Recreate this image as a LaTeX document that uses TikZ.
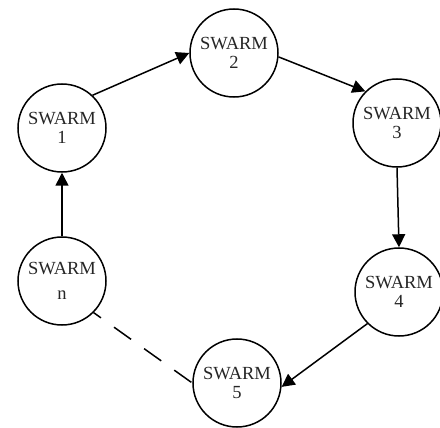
\documentclass[tikz,border=0pt]{standalone}
\usepackage{fontspec}
\setmainfont{Liberation Serif}
\usetikzlibrary{arrows.meta}
\begin{document}
\begin{tikzpicture}[x=1pt,y=-1pt,
  swarm/.style={draw, circle, minimum size=88pt, inner sep=0pt, line width=1.5pt,
    align=center, font=\fontsize{18.5}{19.5}\selectfont, text=black!85},
  arr/.style={line width=1.5pt, -{Triangle[length=13pt,width=13pt]}},
  dashline/.style={line width=1.5pt, dash pattern=on 21pt off 16pt, dash phase=12pt}]
\useasboundingbox (0,0) rectangle (440,428);
\node[swarm] (s1) at (62,128) {SWARM\\1};
\node[swarm] (s2) at (234,53) {SWARM\\2};
\node[swarm] (s3) at (397,123) {SWARM\\3};
\node[swarm] (s4) at (399,292) {SWARM\\4};
\node[swarm] (s5) at (237,383) {SWARM\\5};
\node[swarm] (sn) at (62,281) {SWARM\\[5pt]n};
\draw[arr] (s1.47) -- (s2.west);
\draw[arr] (s2.-5) -- (s3.135);
\draw[arr] (s3.south) -- (s4.north);
\draw[arr] (s4.225) -- (s5.-5);
\draw[arr] (sn.north) -- (s1.south);
\draw[dashline] (sn.-45) -- (s5.west);
\end{tikzpicture}
\end{document}
